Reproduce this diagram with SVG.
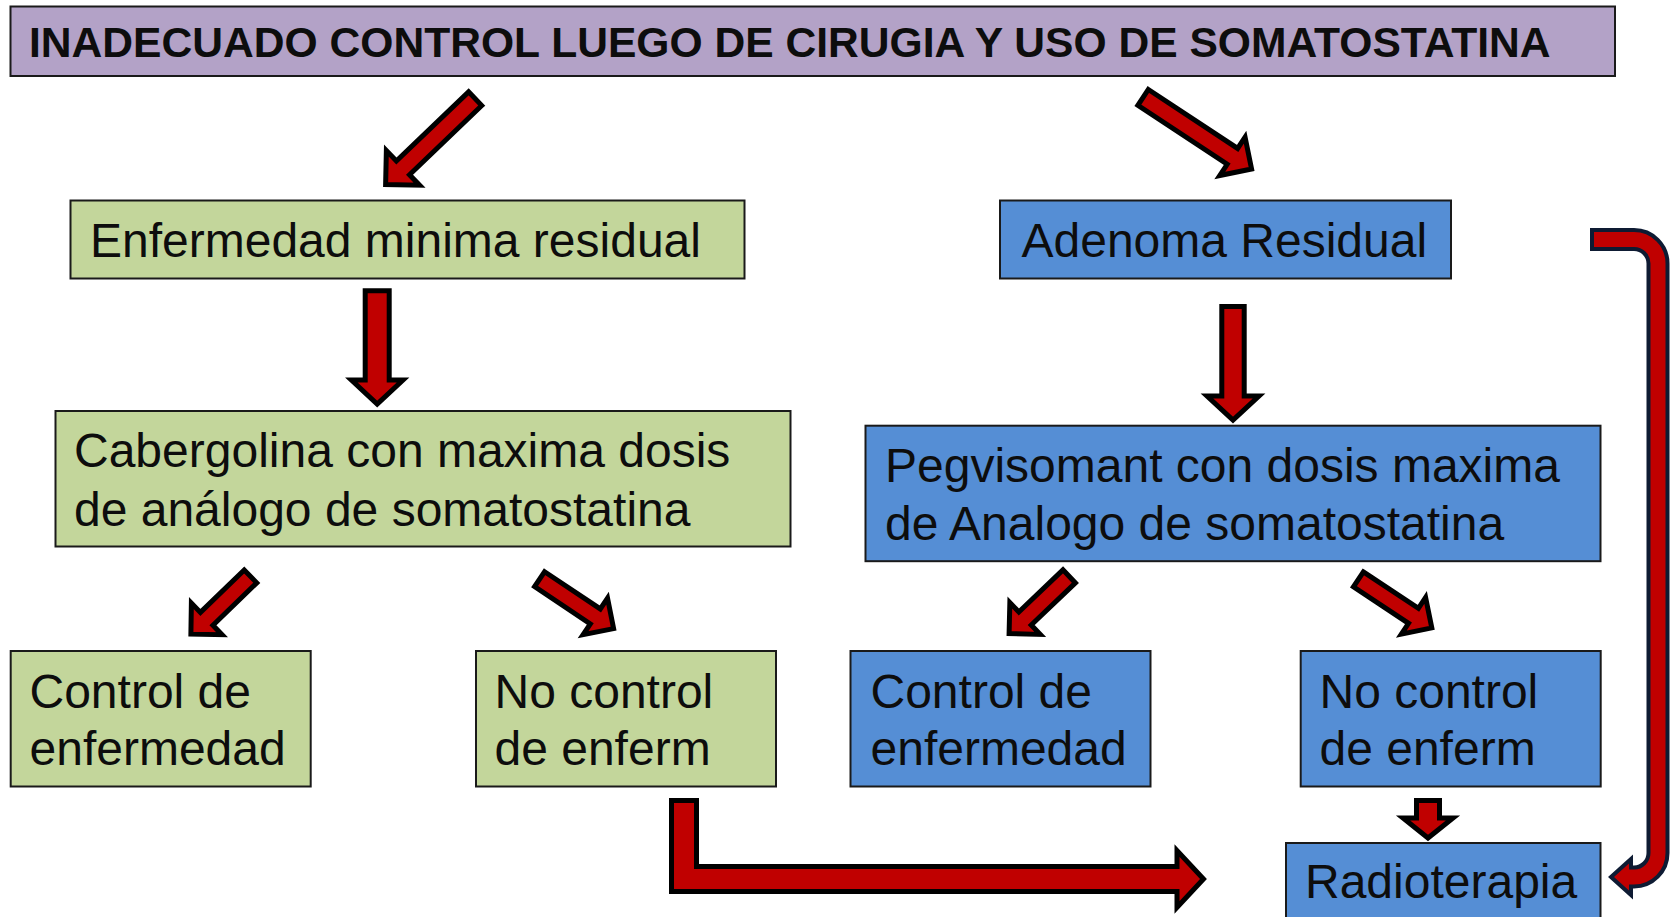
<svg xmlns="http://www.w3.org/2000/svg" width="1673" height="917" viewBox="0 0 1673 917">
<style>
.box{stroke:#1a1a1a;stroke-width:2}
.purple{fill:#B3A2C7}
.green{fill:#C3D69B}
.blue{fill:#558ED5}
.t{font-family:"Liberation Sans",Arial,sans-serif;font-size:48px;fill:#0d0d0d}
.title{font-family:"Liberation Sans",Arial,sans-serif;font-size:42.6px;font-weight:bold;fill:#0d0d0d}
.arr{fill:#C00000;stroke:#000;stroke-width:5;stroke-linejoin:miter;stroke-miterlimit:10}
.carr{fill:#C00000;stroke:#0E1B33;stroke-width:4;stroke-linejoin:miter}
</style>
<rect width="1673" height="917" fill="#fff"/>
<g id="title">
<rect class="box purple" x="10.5" y="6.5" width="1604.5" height="69.5"/>
<text class="title" x="29" y="57">INADECUADO CONTROL LUEGO DE CIRUGIA Y USO DE SOMATOSTATINA</text>
</g>
<g id="enfermedad-minima">
<rect class="box green" x="70.5" y="200.5" width="674" height="78"/>
<text class="t" x="90" y="257">Enfermedad minima residual</text>
</g>
<g id="adenoma-residual">
<rect class="box blue" x="1000" y="200.5" width="451" height="78"/>
<text class="t" x="1021.5" y="257">Adenoma Residual</text>
</g>
<g id="cabergolina">
<rect class="box green" x="55.5" y="411" width="735" height="135.5"/>
<text class="t" x="74" y="467">Cabergolina con maxima dosis</text>
<text class="t" x="74" y="526">de análogo de somatostatina</text>
</g>
<g id="pegvisomant">
<rect class="box blue" x="865.5" y="425.7" width="735" height="135.5"/>
<text class="t" x="885" y="482">Pegvisomant con dosis maxima</text>
<text class="t" x="885" y="540">de Analogo de somatostatina</text>
</g>
<g id="control-green">
<rect class="box green" x="10.7" y="651" width="300" height="135.5"/>
<text class="t" x="29.5" y="708.3">Control de</text>
<text class="t" x="29.5" y="765">enfermedad</text>
</g>
<g id="nocontrol-green">
<rect class="box green" x="476" y="651" width="300" height="135.5"/>
<text class="t" x="494.5" y="708.3">No control</text>
<text class="t" x="494.5" y="765">de enferm</text>
</g>
<g id="control-blue">
<rect class="box blue" x="850.5" y="651" width="300" height="135.5"/>
<text class="t" x="870.5" y="708.3">Control de</text>
<text class="t" x="870.5" y="765">enfermedad</text>
</g>
<g id="nocontrol-blue">
<rect class="box blue" x="1300.7" y="651" width="300" height="135.5"/>
<text class="t" x="1319.5" y="708.3">No control</text>
<text class="t" x="1319.5" y="765">de enferm</text>
</g>
<g id="radioterapia">
<rect class="box blue" x="1286" y="843" width="314.5" height="80"/>
<text class="t" x="1305" y="898">Radioterapia</text>
</g>
<g id="connectors">
<path class="arr" transform="translate(475.2,98.7) rotate(136.25)" d="M0,-9.5 H100 V-24 L124,0 L100,24 V9.5 H0 Z"/>
<path class="arr" transform="translate(1143.1,97.4) rotate(33.43)" d="M0,-9.5 H107 V-23 L130,0 L107,23 V9.5 H0 Z"/>
<path class="arr" d="M365.2,290.8 H389.2 V380 H403 L377.2,404 L351.4,380 H365.2 Z"/>
<path class="arr" d="M1221.8,306.5 H1244.2 V396 H1259 L1233,420 L1207,396 H1221.8 Z"/>
<path class="arr" transform="translate(250.5,576.4) rotate(135.9)" d="M0,-9 H61 V-22 L83,0 L61,22 V9 H0 Z"/>
<path class="arr" transform="translate(539.6,579.2) rotate(33.74)" d="M0,-9 H67 V-22 L89,0 L67,22 V9 H0 Z"/>
<path class="arr" transform="translate(1069.2,576.4) rotate(136.4)" d="M0,-9 H61 V-22 L83,0 L61,22 V9 H0 Z"/>
<path class="arr" transform="translate(1358.4,579.4) rotate(33.46)" d="M0,-9 H66 V-22 L88,0 L66,22 V9 H0 Z"/>
<path class="arr" d="M1416.5,800.5 H1439.5 V818 H1453 L1428,838 L1403,818 H1416.5 Z"/>
<path class="arr" d="M671.5,800.5 H696.5 V866.5 H1177 V850.5 L1203.5,879 L1177,907.5 V891.5 H671.5 Z"/>
<path class="carr" d="M1592,230 H1634 A33.5,33.5 0 0 1 1667.5,263.5 V853 A33.5,33.5 0 0 1 1634,886.5 H1631 V895 L1611,877 L1631,859 V867.5 H1634 A14.5,14.5 0 0 0 1648.5,853 V263.5 A14.5,14.5 0 0 0 1634,249 H1592 Z"/>
</g>
</svg>
